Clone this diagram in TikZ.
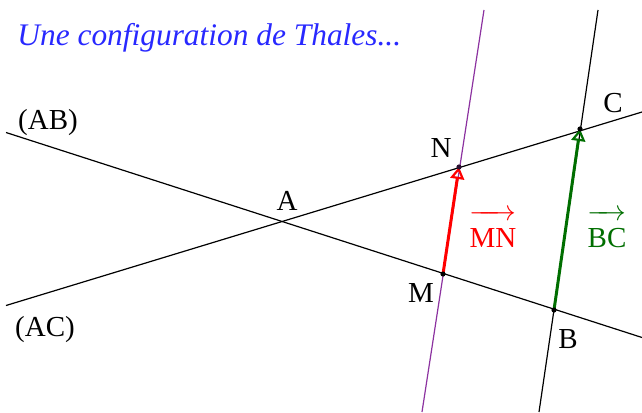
\documentclass[tikz,border=0pt]{standalone}
\usepackage{fontspec}
\setmainfont{Liberation Serif}
\usepackage{amsmath}
\usetikzlibrary{arrows.meta,positioning}

\definecolor{titleblue}{RGB}{40,40,255}
\definecolor{vecgreen}{RGB}{0,110,0}
\definecolor{linepurple}{RGB}{140,50,160}

\begin{document}
\begin{tikzpicture}[x=0.5pt,y=-0.5pt,
  droite/.style={line width=0.6pt},
  vecteur/.style={line width=1.5pt,-{Triangle[open,length=6pt,width=7pt,line width=1.1pt]}},
  lbl/.style={font=\fontsize{14.5}{16}\selectfont, inner sep=0pt}]
\useasboundingbox (0,0) rectangle (642,412);

% points of the figure
\coordinate (A) at (283,222);
\coordinate (B) at (554,310);
\coordinate (C) at (580,129);
\coordinate (M) at (443,274);
\coordinate (N) at (459,167);

% ends of the lines
\coordinate (AB1) at (6,132.5);
\coordinate (AB2) at (642,337.5);
\coordinate (AC1) at (6,305.5);
\coordinate (AC2) at (642,112);
\coordinate (MN1) at (484,10);
\coordinate (MN2) at (422,412);
\coordinate (BC1) at (598,10);
\coordinate (BC2) at (539,412);

\draw[droite] (AB1) -- (AB2);
\draw[droite] (AC1) -- (AC2);
\draw[droite, linepurple] (MN1) -- (MN2);
\draw[droite] (BC1) -- (BC2);

\draw[vecteur, red] (M) -- (N);
\draw[vecteur, vecgreen] (B) -- (C);

\foreach \p in {B,C,M} \fill (\p) circle (1.3pt);
\fill[black!70!linepurple] (N) circle (1.3pt);

\node[lbl, anchor=west, text=titleblue, font=\fontsize{15.7}{18}\selectfont\itshape] (titre) at (17,38) {Une configuration de Thales...};
\node[lbl] (lblAB) at (48,123) {(AB)};
\node[lbl] (lblAC) at (45,330) {(AC)};
\node[lbl] (lblA) at (287,201) {A};
\node[lbl] (lblN) at (441,148) {N};
\node[lbl] (lblC) at (613,103) {C};
\node[lbl] (lblM) at (421,293) {M};
\node[lbl] (lblB) at (568,339) {B};
\node[lbl, text=red] (lblMN) at (493,229) {$\overrightarrow{\mathrm{MN}\rule{0pt}{2ex}}$};
\node[lbl, text=vecgreen] (lblBC) at (607,229) {$\overrightarrow{\mathrm{BC}\rule{0pt}{2ex}}$};
\end{tikzpicture}
\end{document}
